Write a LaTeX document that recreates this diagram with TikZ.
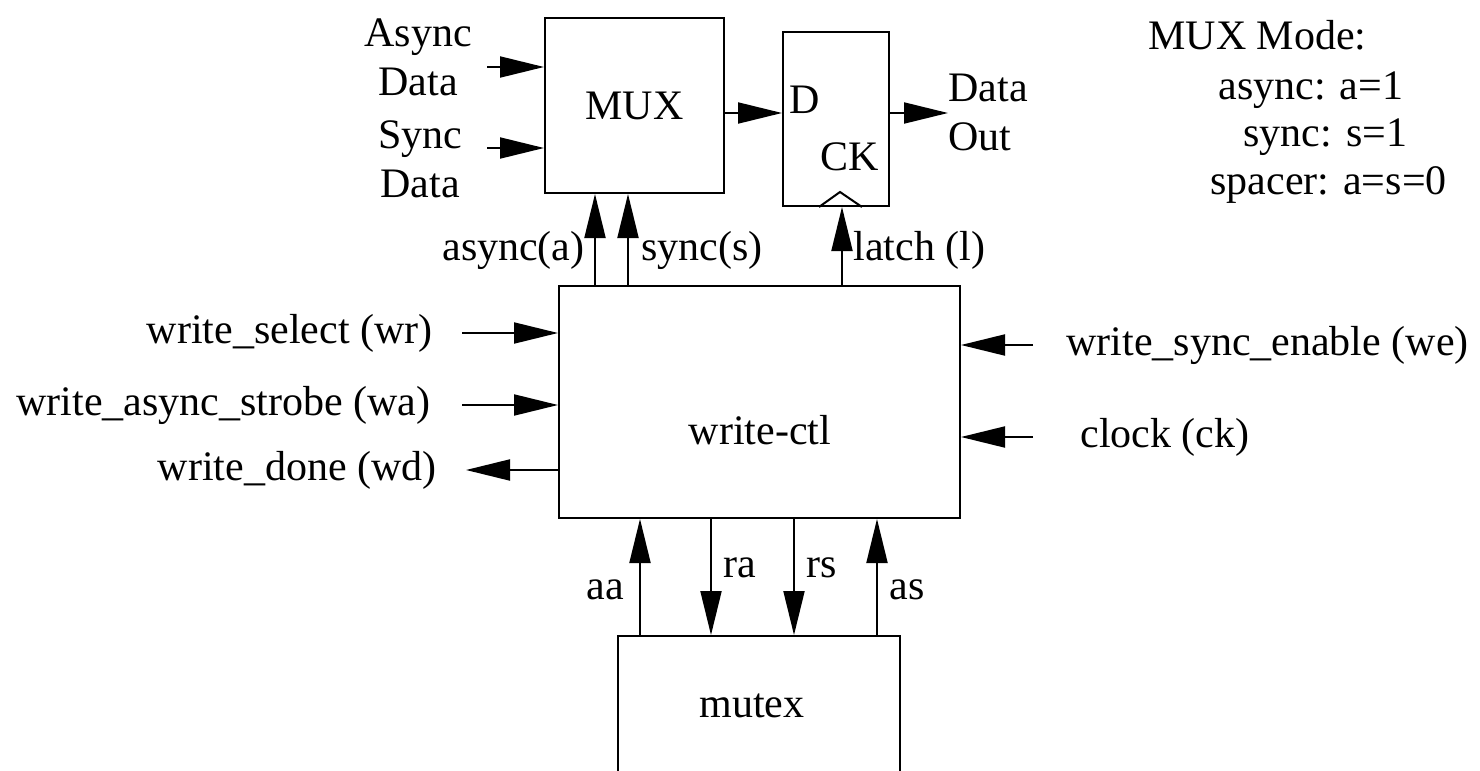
\documentclass[tikz,border=0pt]{standalone}
\usepackage{fontspec}
\setmainfont{Liberation Serif}
\usetikzlibrary{arrows.meta,positioning,calc}

\tikzset{
  blk/.style={draw,line width=1pt,inner sep=0pt},
  sig/.style={line width=1pt,-{Triangle[length=22pt,width=10.5pt]}},
  wire/.style={line width=1pt},
  lbl/.style={inner sep=0pt}
}

\begin{document}
\begin{tikzpicture}[x=0.5pt,y=-0.5pt,font=\fontsize{21}{24.5}\selectfont,line join=miter]
  \path[use as bounding box] (0,0) rectangle (1480,771);

  % blocks
  \node[blk,minimum width=89.5pt,minimum height=87.5pt] (mux) at (634.5,105.5) {MUX};
  \node[blk,minimum width=53pt,minimum height=87pt] (dff) at (836,119) {};
  \node[lbl] (dlab) at (805,100) {D};
  \node[lbl] (cklab) at (850,157) {CK};
  \draw[wire] ([xshift=-8.5pt]dff.south) -- ([xshift=2pt,yshift=7.5pt]dff.south)
    -- ([xshift=13pt]dff.south);
  \node[blk,minimum width=200.5pt,minimum height=116pt] (wctl) at (759.5,402) {};
  \node[lbl] (wctltxt) at (760,430) {write-ctl};
  \node[blk,minimum width=141pt,minimum height=85pt] (mutex) at (759,721) {};
  \node[lbl] (mutextxt) at (752,706) {mutex};

  % data path
  \node[lbl,align=center] (adlab) at (418,57) {Async\\Data};
  \node[lbl,align=center] (sdlab) at (420,159) {Sync\\Data};
  \coordinate (adin) at (487,67);
  \coordinate (sdin) at (487,148);
  \draw[sig] (adin) -- (adin -| mux.west);
  \draw[sig] (sdin) -- (sdin -| mux.west);
  \draw[sig] ([yshift=-3.75pt]mux.east) -- ([yshift=-3.75pt]mux.east -| dff.west);
  \coordinate (dout) at (948,113);
  \draw[sig] (dout -| dff.east) -- (dout);
  \node[lbl,anchor=west,align=left] (outlab) at (948,112) {Data\\Out};

  % MUX mode legend
  \node[lbl,anchor=west] (mode) at (1148,35) {MUX Mode:};
  \node[lbl,anchor=west] (modea) at (1218,90) {async: a=1};
  \node[lbl,anchor=west] (modes) at (1243,137) {sync: s=1};
  \node[lbl,anchor=west] (modez) at (1210,185) {spacer: a=s=0};

  % control to mux and latch
  \coordinate (asel) at ([xshift=18.5pt]wctl.north west);
  \coordinate (ssel) at ([xshift=35pt]wctl.north west);
  \coordinate (lt) at ([xshift=3pt]dff.south);
  \draw[sig] (asel) -- (asel |- mux.south);
  \draw[sig] (ssel) -- (ssel |- mux.south);
  \draw[sig] (wctl.north -| lt) -- (lt);
  \node[lbl,anchor=east] (alab) at (585,250) {async(a)};
  \node[lbl,anchor=west] (slab) at (641,250) {sync(s)};
  \node[lbl,anchor=west] (llab) at (853,250) {latch (l)};

  % handshake signals, left and right
  \node[lbl,anchor=east] (wrlab) at (433,333) {write\_select (wr)};
  \node[lbl,anchor=east] (walab) at (431,405) {write\_async\_strobe (wa)};
  \node[lbl,anchor=east] (wdlab) at (437,470) {write\_done (wd)};
  \draw[sig] (462,333) coordinate (wrin) -- (wctl.west |- wrin);
  \draw[sig] (462,405) coordinate (wain) -- (wctl.west |- wain);
  \coordinate (wdout) at (466,470);
  \draw[sig] (wctl.west |- wdout) -- (wdout);

  \node[lbl,anchor=west] (welab) at (1066,345) {write\_sync\_enable (we)};
  \node[lbl,anchor=west] (cklab2) at (1080,437) {clock (ck)};
  \coordinate (wein) at (1033,345);
  \coordinate (ckin) at (1033,437);
  \draw[sig] (wein) -- (wctl.east |- wein);
  \draw[sig] (ckin) -- (wctl.east |- ckin);

  % mutex
  \coordinate (aa) at ([xshift=11.5pt]mutex.north west);
  \coordinate (ra) at ([xshift=47pt]mutex.north west);
  \coordinate (rs) at ([xshift=88.5pt]mutex.north west);
  \coordinate (as) at ([xshift=130pt]mutex.north west);
  \draw[sig] (aa) -- (aa |- wctl.south);
  \draw[sig] (ra |- wctl.south) -- (ra);
  \draw[sig] (rs |- wctl.south) -- (rs);
  \draw[sig] (as) -- (as |- wctl.south);
  \node[lbl] (aalab) at (605,590) {aa};
  \node[lbl] (ralab) at (740,568) {ra};
  \node[lbl] (rslab) at (822,568) {rs};
  \node[lbl] (aslab) at (907,590) {as};
\end{tikzpicture}
\end{document}
